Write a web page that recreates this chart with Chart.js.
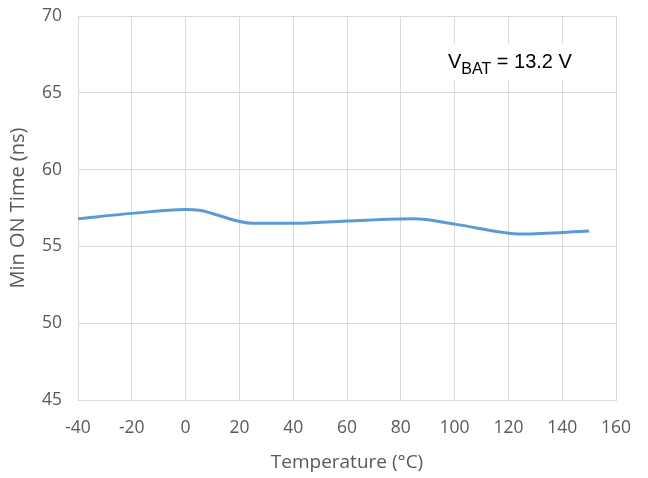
<!DOCTYPE html>
<html>
<head>
<meta charset="utf-8">
<script src="https://cdn.jsdelivr.net/npm/chart.js@4"></script>
<style>
  html, body { margin: 0; padding: 0; background: #fff; }
  #wrap { width: 648px; height: 478px; }
</style>
</head>
<body>
<div id="wrap"><canvas id="grafico" width="648" height="478"></canvas></div>
<script>
// ── Datos ─────────────────────────────
const temperaturas = [-40, -20, 0, 5, 25, 40, 60, 85, 100, 125, 150]
const tiempoMin    = [56.8, 57.15, 57.4, 57.35, 56.5, 56.5, 56.65, 56.8, 56.45, 55.8, 56.0]
const ticksX = [-40, -20, 0, 20, 40, 60, 80, 100, 120, 140, 160]
const ticksY = [45, 50, 55, 60, 65, 70]

const GRIS = '#595959'
const FUENTE = "'Open Sans', sans-serif"

// ── Anotación V_BAT con fondo blanco ──
const anotacion = {
  id: 'anotacion',
  afterDatasetsDraw(chart) {
    const { ctx } = chart
    ctx.save()
    ctx.fillStyle = '#fff'
    ctx.fillRect(432, 44, 168, 36)
    ctx.fillStyle = '#000'
    ctx.textBaseline = 'alphabetic'
    ctx.font = "20px 'Liberation Sans', Arial, sans-serif"
    let x = 448
    ctx.fillText('V', x, 68)
    x += ctx.measureText('V').width
    ctx.font = "16px 'Liberation Sans', Arial, sans-serif"
    ctx.fillText('BAT', x, 74)
    x += ctx.measureText('BAT').width
    ctx.font = "20px 'Liberation Sans', Arial, sans-serif"
    ctx.fillText(' = 13.2 V', x, 68)
    ctx.restore()
  }
}

new Chart(document.getElementById('grafico'), {
  type: 'line',
  data: {
    datasets: [{
      data: temperaturas.map((t, i) => ({ x: t, y: tiempoMin[i] })),
      borderColor: '#5B9BD5',
      borderWidth: 3,
      pointRadius: 0,
      cubicInterpolationMode: 'monotone',
      fill: false
    }]
  },
  plugins: [anotacion],
  options: {
    responsive: false,
    animation: false,
    layout: { padding: { top: 16, right: 32, left: 0, bottom: 0 } },
    plugins: { legend: { display: false }, tooltip: { enabled: false } },
    scales: {
      x: {
        type: 'linear', min: -40, max: 160,
        afterBuildTicks: ax => { ax.ticks = ticksX.map(v => ({ value: v })) },
        afterFit: ax => { ax.height = 78; ax.paddingLeft = 0; ax.paddingRight = 0 },
        grid: { color: '#d9d9d9', drawTicks: false },
        border: { color: '#d9d9d9' },
        ticks: { color: GRIS, font: { family: FUENTE, size: 17.5 }, padding: 18, maxRotation: 0 },
        title: { display: true, text: 'Temperature (°C)', color: GRIS, font: { family: FUENTE, size: 19 }, padding: { top: 2 } }
      },
      y: {
        min: 45, max: 70,
        afterBuildTicks: ax => { ax.ticks = ticksY.map(v => ({ value: v })) },
        afterFit: ax => { ax.width = 78; ax.paddingTop = 0; ax.paddingBottom = 0 },
        grid: { color: '#d9d9d9', drawTicks: false },
        border: { color: '#d9d9d9' },
        ticks: { color: GRIS, font: { family: FUENTE, size: 17.5 }, padding: 16 },
        title: { display: true, text: 'Min ON Time (ns)', color: GRIS, font: { family: FUENTE, size: 20 }, padding: { top: 6, bottom: 0 } }
      }
    }
  }
})
</script>
</body>
</html>
